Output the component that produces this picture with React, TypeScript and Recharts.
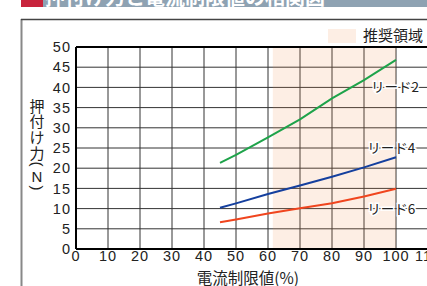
import React from 'react';
import { ComposedChart, Line, XAxis, YAxis, CartesianGrid, ReferenceArea, ReferenceLine, ReferenceDot } from 'recharts';

const xTicks = [0, 10, 20, 30, 40, 50, 60, 70, 80, 90, 100, 110, 120];
const yTicks = [0, 5, 10, 15, 20, 25, 30, 35, 40, 45, 50];

const lead2 = [
  { x: 45, y: 21.3 }, { x: 50, y: 23.3 }, { x: 60, y: 27.6 }, { x: 70, y: 32.1 },
  { x: 80, y: 37.3 }, { x: 90, y: 41.8 }, { x: 100, y: 46.8 },
];
const lead4 = [
  { x: 45, y: 10.2 }, { x: 50, y: 11.3 }, { x: 60, y: 13.6 }, { x: 70, y: 15.7 },
  { x: 80, y: 17.9 }, { x: 90, y: 20.2 }, { x: 100, y: 22.7 },
];
const lead6 = [
  { x: 45, y: 6.6 }, { x: 50, y: 7.3 }, { x: 60, y: 8.8 }, { x: 70, y: 10.1 },
  { x: 80, y: 11.3 }, { x: 90, y: 13.0 }, { x: 100, y: 14.9 },
];
const seriesLabels = [
  { name: 'リード2', x: 92.2, y: 40 },
  { name: 'リード4', x: 91.0, y: 25 },
  { name: 'リード6', x: 91.0, y: 10 },
];
const recommended = { from: 61.5, to: 100 };
const title = '押付け力と電流制限値の相関図';
const yLabelChars = ['押', '付', 'け', '力', '(', 'N', ')'];
const yLabelPos = [105, 120, 136, 152, 164, 176, 188];

const latin = 'Liberation Sans, Arial, sans-serif';
const tickStyle = { fontSize: 14.5, fill: '#222', fontFamily: latin, letterSpacing: 1 };
const cjk = '"Noto Sans CJK JP", "Noto Sans", sans-serif';

const HaloLabel = (props: any) => {
  const { viewBox, value } = props;
  return (
    <text x={viewBox.x} y={viewBox.y} dy={5} fontSize={13.5} fontFamily={cjk} fill="#222"
      stroke="#fff" strokeWidth={3} paintOrder="stroke" textAnchor="start">{value}</text>
  );
};

export default function App() {
  return (
    <div style={{ position: 'fixed', left: 0, top: 0, width: 427, height: 286, overflow: 'hidden', background: '#fff' }}>
      <svg width={427} height={286} style={{ position: 'absolute', left: 0, top: 0 }}>
        <rect x={21} y={0} width={406} height={7} fill="#8ea2b2" />
        <rect x={21} y={0} width={22} height={7} fill="#c8243c" />
        <text x={45} y={5} fontSize={20} fontFamily={cjk} fill="#fff" fontWeight="bold">{title}</text>
        <line x1={21.5} y1={19} x2={21.5} y2={286} stroke="#888" strokeWidth={2} />
        <line x1={21} y1={19.5} x2={427} y2={19.5} stroke="#444" strokeWidth={1.5} />
        <rect x={328} y={29} width={28} height={14} fill="#fdeee4" />
        <text x={363} y={41} fontSize={15} fontFamily={cjk} fill="#222">推奨領域</text>
        {yLabelChars.map((c, i) => {
          const isParen = c === '(' || c === ')';
          const isLatin = isParen || c === 'N';
          return (
            <text key={i} x={37} y={yLabelPos[i]} textAnchor="middle" dominantBaseline="central"
              fontSize={15} fontFamily={isLatin ? latin : cjk} fill="#222"
              transform={isParen ? `rotate(90, 37, ${yLabelPos[i]})` : undefined}>{c}</text>
          );
        })}
      </svg>
      <div style={{ position: 'absolute', left: 0, top: 0 }}>
        <ComposedChart width={480} height={286} margin={{ top: 47, right: 20, bottom: 0, left: 0 }}>
          <ReferenceArea x1={recommended.from} x2={recommended.to} y1={0} y2={50} fill="#f28e4b" fillOpacity={0.15} stroke="none" ifOverflow="hidden" />
          <CartesianGrid stroke="#333" strokeWidth={1} />
          <XAxis type="number" dataKey="x" domain={[0, 120]} ticks={xTicks} interval={0} height={37}
            tickLine={false} tickSize={2} axisLine={{ stroke: '#000', strokeWidth: 2 }} tick={tickStyle} tickMargin={0}
            allowDataOverflow
            label={{ value: '電流制限値(%)', position: 'insideBottom', offset: 2, dx: -20, fontSize: 15.5, fill: '#222', fontFamily: cjk }} />
          <YAxis type="number" domain={[0, 50]} ticks={yTicks} interval={0} width={76}
            tickLine={false} tickSize={3} axisLine={{ stroke: '#000', strokeWidth: 2 }} tick={tickStyle} tickMargin={2} />
          <ReferenceLine y={50} stroke="#000" strokeWidth={2} />
          <Line data={lead2} dataKey="y" type="linear" stroke="#1ea34a" strokeWidth={2} dot={false} isAnimationActive={false} />
          <Line data={lead4} dataKey="y" type="linear" stroke="#143f9e" strokeWidth={2} dot={false} isAnimationActive={false} />
          <Line data={lead6} dataKey="y" type="linear" stroke="#f0451e" strokeWidth={2} dot={false} isAnimationActive={false} />
          {seriesLabels.map((s) => (
            <ReferenceDot key={s.name} x={s.x} y={s.y} r={0} stroke="none" fill="none"
              label={<HaloLabel value={s.name} />} />
          ))}
        </ComposedChart>
      </div>
    </div>
  );
}
